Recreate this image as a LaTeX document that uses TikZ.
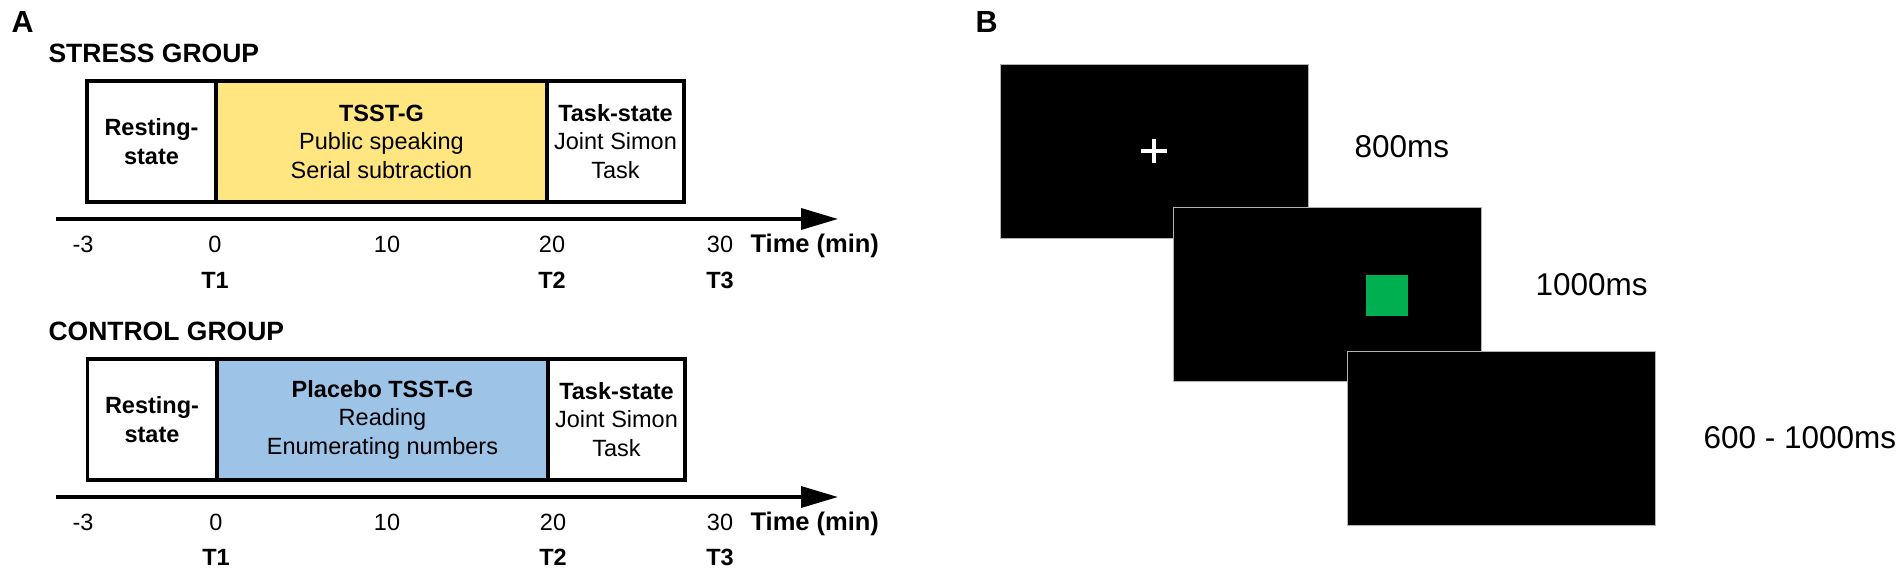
\documentclass[tikz,border=0pt]{standalone}
\usepackage{fontspec}
\setmainfont{Liberation Sans}
\usetikzlibrary{arrows.meta}
\definecolor{yel}{RGB}{255,230,128}
\definecolor{blu}{RGB}{157,195,230}
\definecolor{grn}{RGB}{0,176,80}
\tikzset{
  seg/.style={draw=black, line width=3.5pt, minimum height=121pt, inner sep=0pt, outer sep=0pt, align=center, font=\fontsize{23.5}{28.5}\selectfont},
  axisline/.style={line width=3.5pt, -{Triangle[length=37pt,width=21pt]}},
  tick/.style={anchor=base, font=\fontsize{23.5}{28}\selectfont},
  tlab/.style={anchor=base, font=\fontsize{23.5}{28}\selectfont\bfseries},
  timelab/.style={anchor=base west, font=\fontsize{25.5}{30}\selectfont\bfseries},
  grp/.style={anchor=base west, font=\fontsize{26.5}{30}\selectfont\bfseries},
  panel/.style={anchor=base west, font=\fontsize{30.5}{34}\selectfont\bfseries},
  screen/.style={fill=black, draw=black!30, line width=1pt, minimum width=308pt, minimum height=174pt, inner sep=0pt, outer sep=0pt},
  dur/.style={anchor=base west, font=\fontsize{31.5}{36}\selectfont}
}
\begin{document}
\begin{tikzpicture}[x=1pt,y=-1pt]
\useasboundingbox (0,0) rectangle (1902,573);

% Panel A
\node[panel] (lblA) at (8,32) {A};

% ---- Stress group ----
\node[grp] (gS) at (45,62) {STRESS GROUP};
\node[seg, minimum width=129pt] (restS) at (151.5,141.5) {\textbf{Resting-}\\\textbf{state}};
\node[seg, fill=yel, minimum width=331pt] (tsstS) at (381.5,141.5) {\textbf{TSST-G}\\Public speaking\\Serial subtraction};
\node[seg, minimum width=137pt] (taskS) at (615.5,141.5) {\textbf{Task-state}\\Joint Simon\\Task};
\coordinate (axSs) at (56,219);
\coordinate (axSe) at (838,219);
\draw[axisline] (axSs) -- (axSe);
\node[tick] (tSm3) at (83,252) {-3};
\node[tick] (tS0) at (215,252) {0};
\node[tick] (tS10) at (387,252) {10};
\node[tick] (tS20) at (552,252) {20};
\node[tick] (tS30) at (720,252) {30};
\node[timelab] (timeS) at (747,252) {Time (min)};
\node[tlab] (T1S) at (215,288) {T1};
\node[tlab] (T2S) at (552,288) {T2};
\node[tlab] (T3S) at (720,288) {T3};

% ---- Control group ----
\node[grp] (gC) at (45,340) {CONTROL GROUP};
\node[seg, minimum width=129pt] (restC) at (152,419.5) {\textbf{Resting-}\\\textbf{state}};
\node[seg, fill=blu, minimum width=331pt] (tsstC) at (382.5,419.5) {\textbf{Placebo TSST-G}\\Reading\\Enumerating numbers};
\node[seg, minimum width=137pt] (taskC) at (616.5,419.5) {\textbf{Task-state}\\Joint Simon\\Task};
\coordinate (axCs) at (56,497);
\coordinate (axCe) at (838,497);
\draw[axisline] (axCs) -- (axCe);
\node[tick] (tCm3) at (83,530) {-3};
\node[tick] (tC0) at (216,530) {0};
\node[tick] (tC10) at (387,530) {10};
\node[tick] (tC20) at (553,530) {20};
\node[tick] (tC30) at (720,530) {30};
\node[timelab] (timeC) at (747,530) {Time (min)};
\node[tlab] (T1C) at (216,565) {T1};
\node[tlab] (T2C) at (553,565) {T2};
\node[tlab] (T3C) at (720,565) {T3};

% Panel B
\node[panel] (lblB) at (972,32) {B};
\node[screen] (scr1) at (1154,151) {};
\draw[white, line width=3.6pt] ([xshift=-13pt]scr1.center) -- ([xshift=13pt]scr1.center);
\draw[white, line width=3.6pt] ([yshift=-12pt]scr1.center) -- ([yshift=12pt]scr1.center);
\node[screen] (scr2) at (1327,294.5) {};
\node[fill=grn, minimum width=42pt, minimum height=41pt, inner sep=0pt] (stim) at (1387,295) {};
\node[screen] (scr3) at (1501,438) {};
\node[dur] (d1) at (1351,157) {800ms};
\node[dur] (d2) at (1532,295) {1000ms};
\node[dur] (d3) at (1700,448) {600 - 1000ms};
\end{tikzpicture}
\end{document}
